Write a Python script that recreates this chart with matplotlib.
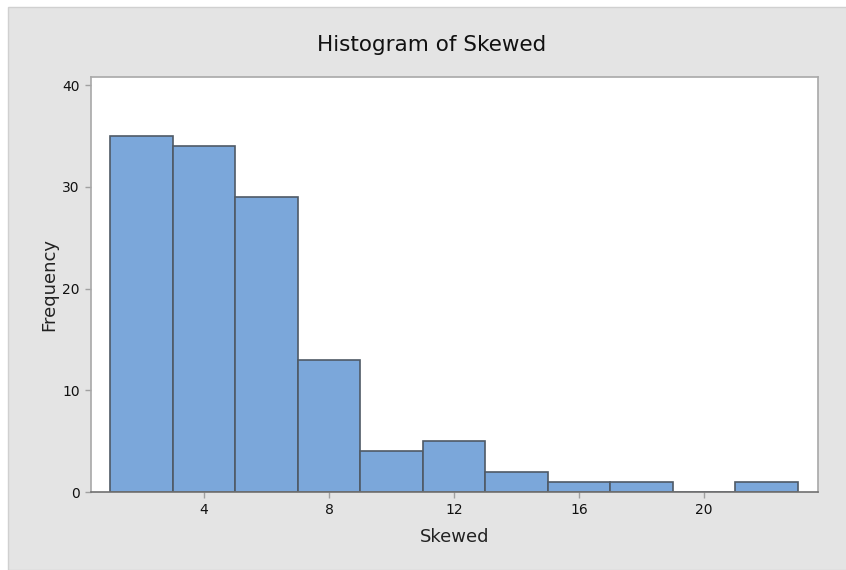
import matplotlib
matplotlib.use("Agg")
import matplotlib.pyplot as plt
from matplotlib.patches import Rectangle

bin_edges = [1, 3, 5, 7, 9, 11, 13, 15, 17, 19, 21, 23]
counts = [35, 34, 29, 13, 4, 5, 2, 1, 1, 0, 1]
x_ticks = [4, 8, 12, 16, 20]
y_ticks = [0, 10, 20, 30, 40]

W, H = 846, 570
fig = plt.figure(figsize=(W / 100, H / 100), dpi=100)
fig.patch.set_facecolor("white")
bg = Rectangle((8 / W, 0), 1, 1 - 7 / H, transform=fig.transFigure,
               facecolor="#e4e4e4", edgecolor="#d0d0d0", lw=1, zorder=-10)
fig.add_artist(bg)

left, right, top, bottom = 91, 818, 77, 492
ax = fig.add_axes([left / W, 1 - bottom / H, (right - left) / W, (bottom - top) / H])
ax.set_zorder(1)
ax.set_facecolor("white")

widths = [bin_edges[i + 1] - bin_edges[i] for i in range(len(counts))]
ax.bar(bin_edges[:-1], counts, width=widths, align="edge",
       color="#7ba7da", edgecolor="#4f5a66", linewidth=1.2, zorder=2)

ax.set_xlim(0.38, 23.65)
ax.set_ylim(0, 40.8)
ax.set_xticks(x_ticks)
ax.set_yticks(y_ticks)

for s in ax.spines.values():
    s.set_color("#a8a8a8")
    s.set_linewidth(1.2)
ax.spines["bottom"].set_color("#707070")

font = ["Liberation Sans Narrow", "DejaVu Sans"]
ax.tick_params(axis="both", colors="#a0a0a0", length=4, width=1, labelcolor="#111111",
               labelsize=10, pad=4)
for lab in ax.get_xticklabels() + ax.get_yticklabels():
    lab.set_family(font)

ax.set_xlabel("Skewed", fontsize=13, family=font, color="#222222", labelpad=8)
ax.set_ylabel("Frequency", fontsize=13, family=font, color="#222222", labelpad=3)
fig.text(432 / W, 1 - 45 / H, "Histogram of Skewed", ha="center", va="center",
         fontsize=15.5, family=font, color="#111111")

fig.savefig("out.png", dpi=100, facecolor=fig.get_facecolor())
